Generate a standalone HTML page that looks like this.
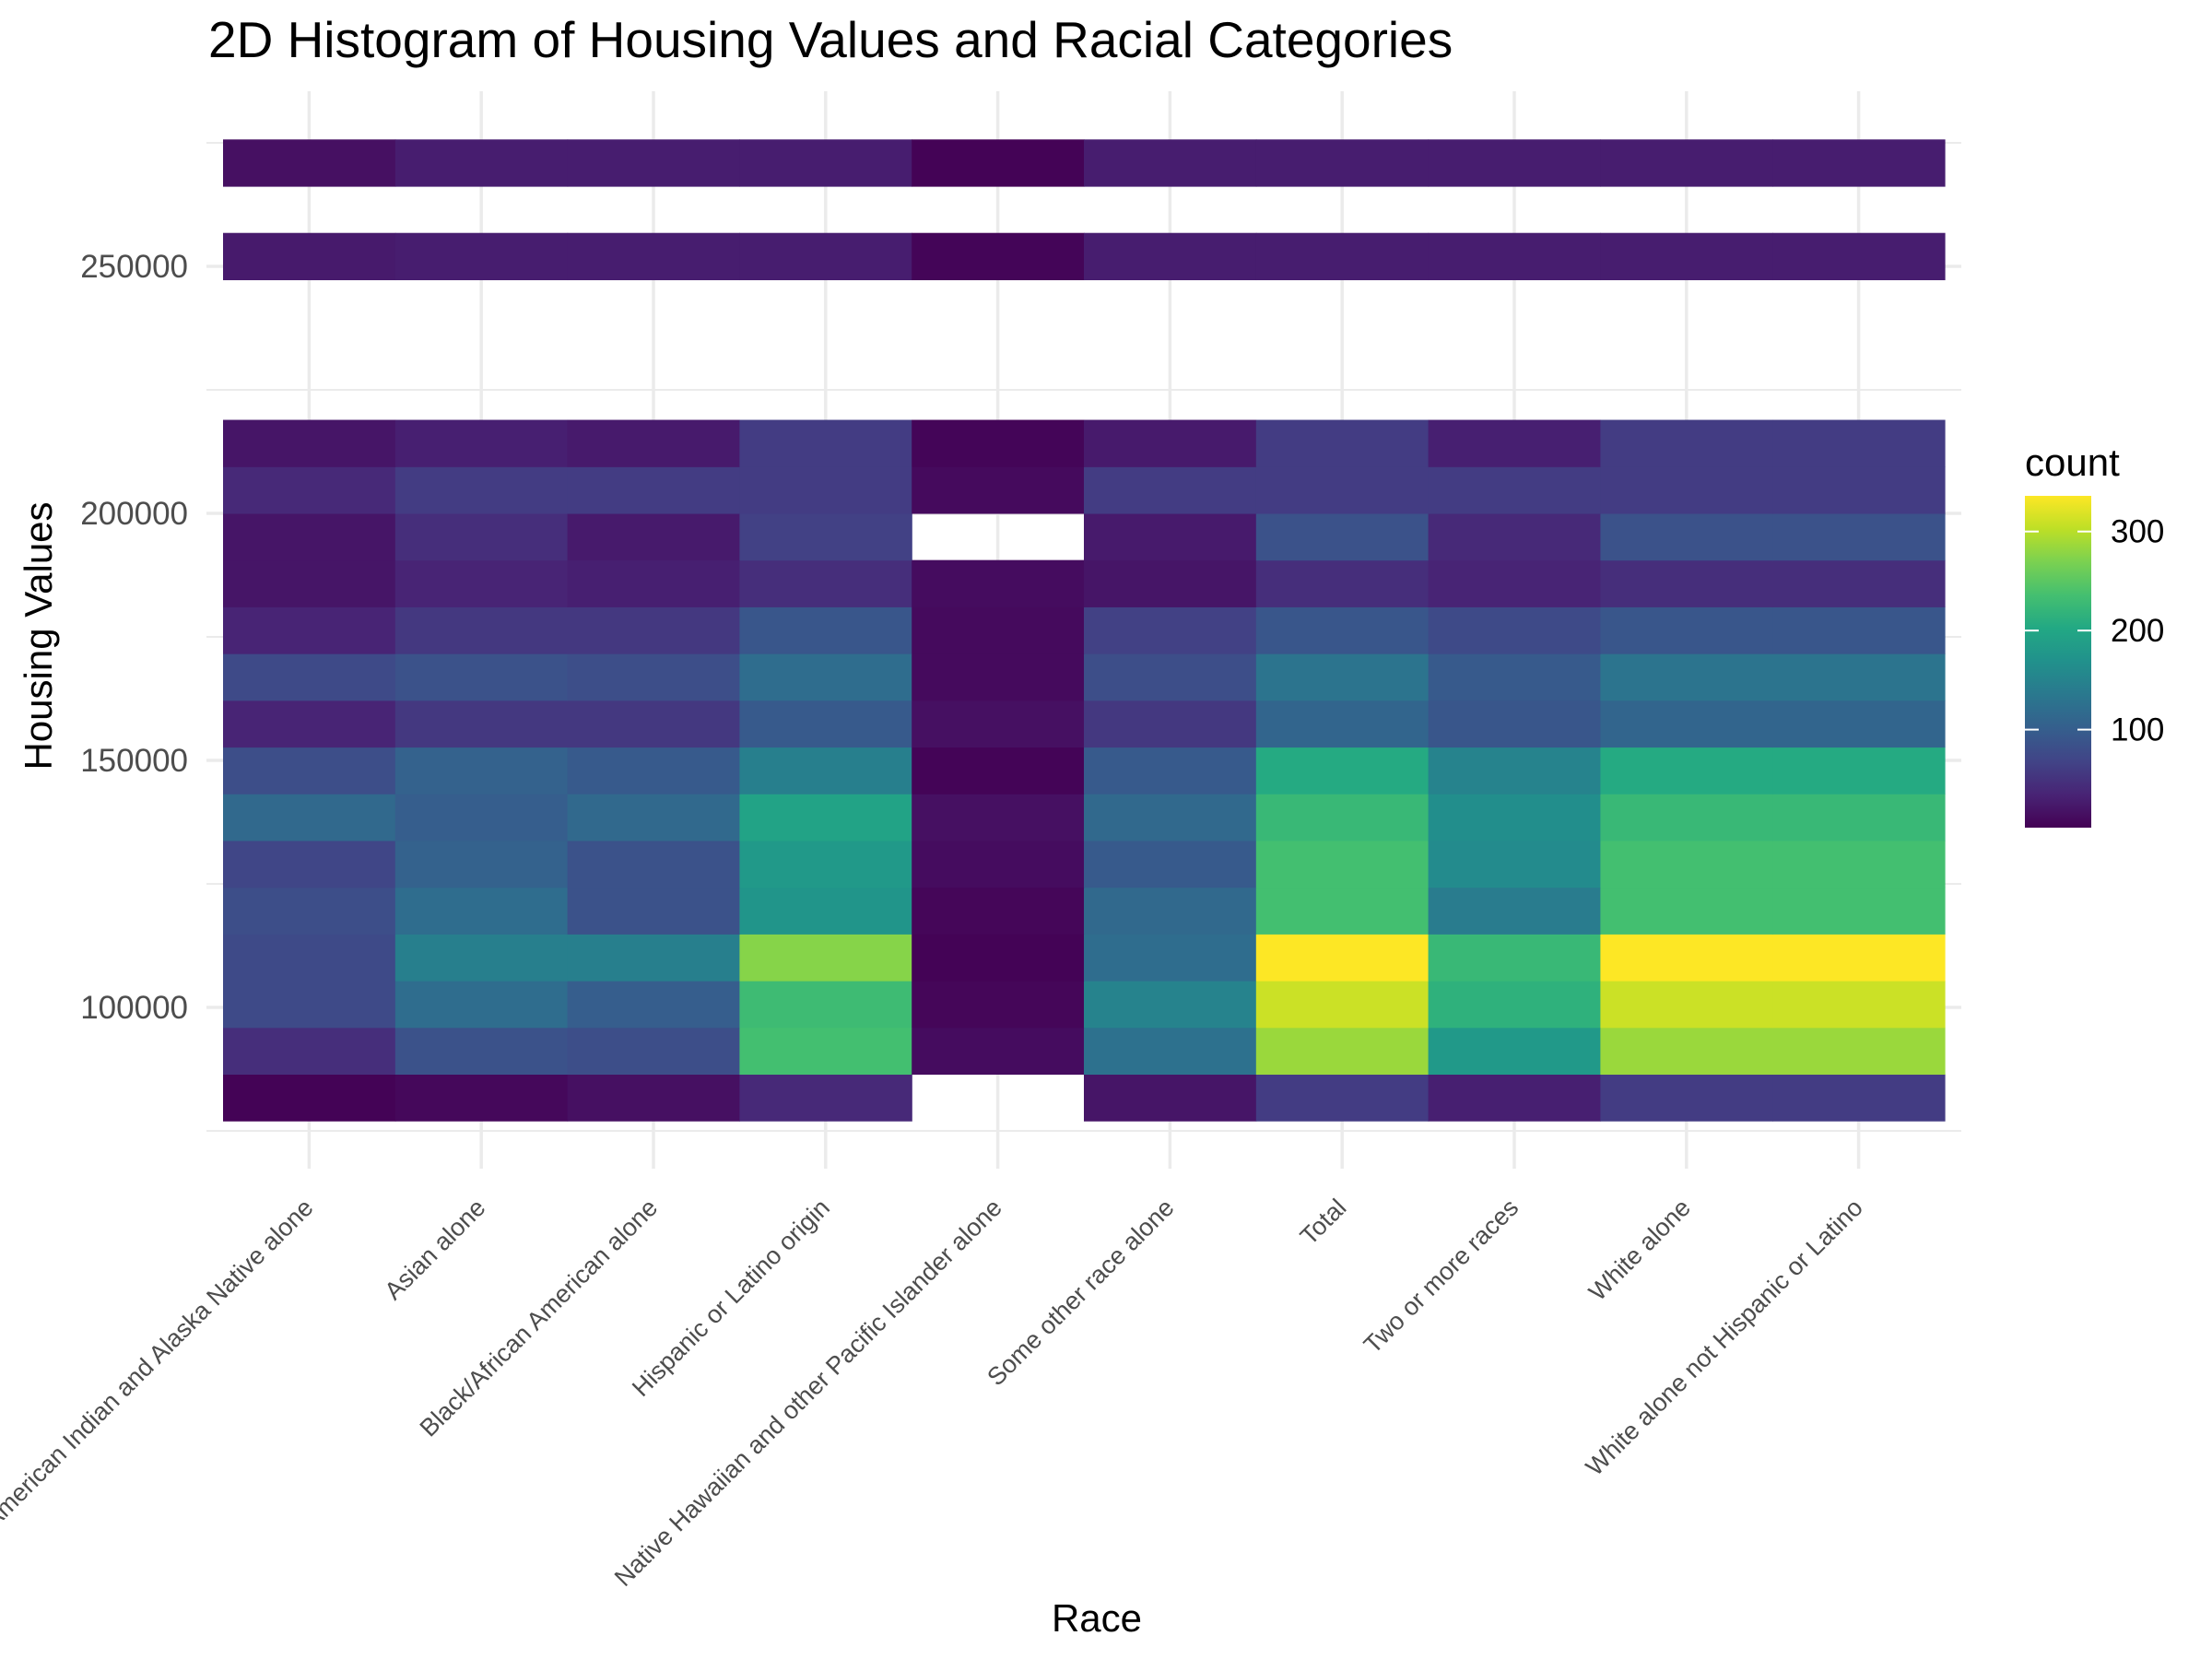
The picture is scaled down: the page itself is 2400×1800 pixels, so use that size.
<!DOCTYPE html>
<html><head><meta charset="utf-8">
<style>
html,body{margin:0;padding:0;background:#fff;}
svg{display:block;font-family:"Liberation Sans",sans-serif;}
</style></head>
<body>
<svg id="chart" width="2400" height="1800" viewBox="0 0 2400 1800">
  <rect x="0" y="0" width="2400" height="1800" fill="#fff"/>
  <g id="grid"></g>
  <g id="cells"></g>
  <g id="yticks"></g>
  <g id="xticks"></g>
  <text x="226" y="62" font-size="55" fill="#000">2D Histogram of Housing Values and Racial Categories</text>
  <text x="1190" y="1770" font-size="42" fill="#000" text-anchor="middle">Race</text>
  <text transform="translate(56,690) rotate(-90)" font-size="42" fill="#000" text-anchor="middle">Housing Values</text>
  <g id="legend">
    <text x="2197" y="516" font-size="42" fill="#000">count</text>
    <defs>
      <linearGradient id="vir" x1="0" y1="1" x2="0" y2="0">
        <stop offset="0" stop-color="#440154"/><stop offset="0.1" stop-color="#482475"/>
        <stop offset="0.2" stop-color="#414487"/><stop offset="0.3" stop-color="#355f8d"/>
        <stop offset="0.4" stop-color="#2a788e"/><stop offset="0.5" stop-color="#21918c"/>
        <stop offset="0.6" stop-color="#22a884"/><stop offset="0.7" stop-color="#44bf70"/>
        <stop offset="0.8" stop-color="#7ad151"/><stop offset="0.9" stop-color="#bddf26"/>
        <stop offset="1" stop-color="#fde725"/>
      </linearGradient>
    </defs>
    <rect x="2197" y="538" width="72" height="360" fill="url(#vir)"/>
    <g id="legticks"></g>
  </g>
</svg>
<script>
const categories = ["American Indian and Alaska Native alone","Asian alone","Black/African American alone","Hispanic or Latino origin","Native Hawaiian and other Pacific Islander alone","Some other race alone","Total","Two or more races","White alone","White alone not Hispanic or Latino"];
const binCenters = [81760,91220,100680,110140,119600,129060,138520,147980,157440,166900,176360,185820,195280,204740,214200,252040,270960];
// counts[row][col], 0 = empty
const counts = [
 [3,8,15,40,0,20,60,30,60,60],
 [45,85,80,235,12,125,285,180,285,285],
 [75,120,100,230,6,150,310,215,310,310],
 [75,145,145,275,3,120,336,225,336,336],
 [80,120,85,175,6,115,235,140,235,235],
 [70,105,85,180,12,95,235,160,235,235],
 [115,100,115,195,15,115,225,165,225,225],
 [80,105,95,145,4,95,205,150,205,205],
 [35,55,55,95,15,55,110,90,110,110],
 [75,85,80,120,10,80,130,95,130,130],
 [35,55,55,90,10,65,90,75,90,90],
 [20,35,30,45,12,20,45,35,45,45],
 [20,45,25,65,0,25,85,40,85,85],
 [40,60,60,60,10,60,60,60,60,60],
 [20,30,25,60,5,25,60,30,60,60],
 [25,28,28,28,5,28,28,28,28,28],
 [15,28,28,28,3,28,28,28,28,28]
];
const yMajor = [100000,150000,200000,250000];
const yMinor = [75000,125000,175000,225000,275000];
const legendTicks = [100,200,300];
const binWidth = 9460, cMin = 1, cMax = 336;

const NS = "http://www.w3.org/2000/svg";
const x0 = 242, colW = 186.8;
const xPos = i => x0 + colW * i;
const yScale = v => 557 - (v - 200000) * 268 / 50000;
const vir = ["#440154","#482475","#414487","#355f8d","#2a788e","#21918c","#22a884","#44bf70","#7ad151","#bddf26","#fde725"];
function hex(h){return [1,3,5].map(i=>parseInt(h.substr(i,2),16));}
function color(c){
  let t = Math.max(0, Math.min(1, (c - cMin) / (cMax - cMin))) * 10;
  let i = Math.min(9, Math.floor(t)), f = t - i;
  let a = hex(vir[i]), b = hex(vir[i+1]);
  return "rgb(" + a.map((v,k)=>Math.round(v + (b[k]-v)*f)).join(",") + ")";
}
function mk(tag, attrs, parent){
  const e = document.createElementNS(NS, tag);
  for (const k in attrs) e.setAttribute(k, attrs[k]);
  parent.appendChild(e); return e;
}
const grid = document.getElementById("grid");
yMinor.forEach(v=>{
  const l = mk("line",{x1:224,x2:2128,y1:yScale(v),y2:yScale(v),stroke:"#ebebeb","stroke-width":2},grid);
  
  
});
yMajor.forEach(v=>{
  const l = mk("line",{x1:224,x2:2128,y1:yScale(v),y2:yScale(v),stroke:"#ebebeb","stroke-width":3.5},grid);
  
  
});
categories.forEach((c,i)=>{
  const x = xPos(i) + colW/2;
  const l = mk("line",{x1:x,x2:x,y1:99,y2:1268,stroke:"#ebebeb","stroke-width":3.5},grid);
  
  
});
const cells = document.getElementById("cells");
counts.forEach((row,r)=>{
  row.forEach((c,i)=>{
    if (!c) return;
    const yt = yScale(binCenters[r] + binWidth/2), yb = yScale(binCenters[r] - binWidth/2);
    const rc = mk("rect",{x:xPos(i),y:yt,width:colW+0.6,height:yb-yt+0.6,fill:color(c)},cells);
    
    
  });
});
const yt = document.getElementById("yticks");
yMajor.forEach(v=>{
  const t = mk("text",{x:204,y:yScale(v)+12,"font-size":35,fill:"#4d4d4d","text-anchor":"end"},yt);
  t.textContent = String(v);
  
  
});
const xt = document.getElementById("xticks");
categories.forEach((c,i)=>{
  const x = xPos(i) + colW/2 + 6;
  const t = mk("text",{transform:"translate("+x+",1312) rotate(-45)","font-size":27,fill:"#4d4d4d","text-anchor":"end"},xt);
  t.textContent = c;
  
  
});
const lg = document.getElementById("legticks");
legendTicks.forEach(v=>{
  const y = 898 - (v - cMin) / (cMax - cMin) * 360;
  mk("line",{x1:2197,x2:2212,y1:y,y2:y,stroke:"#fff","stroke-width":2},lg);
  mk("line",{x1:2254,x2:2269,y1:y,y2:y,stroke:"#fff","stroke-width":2},lg);
  const t = mk("text",{x:2290,y:y+12,"font-size":35,fill:"#000"},lg);
  t.textContent = v;
  
  
});
</script>
</body></html>
